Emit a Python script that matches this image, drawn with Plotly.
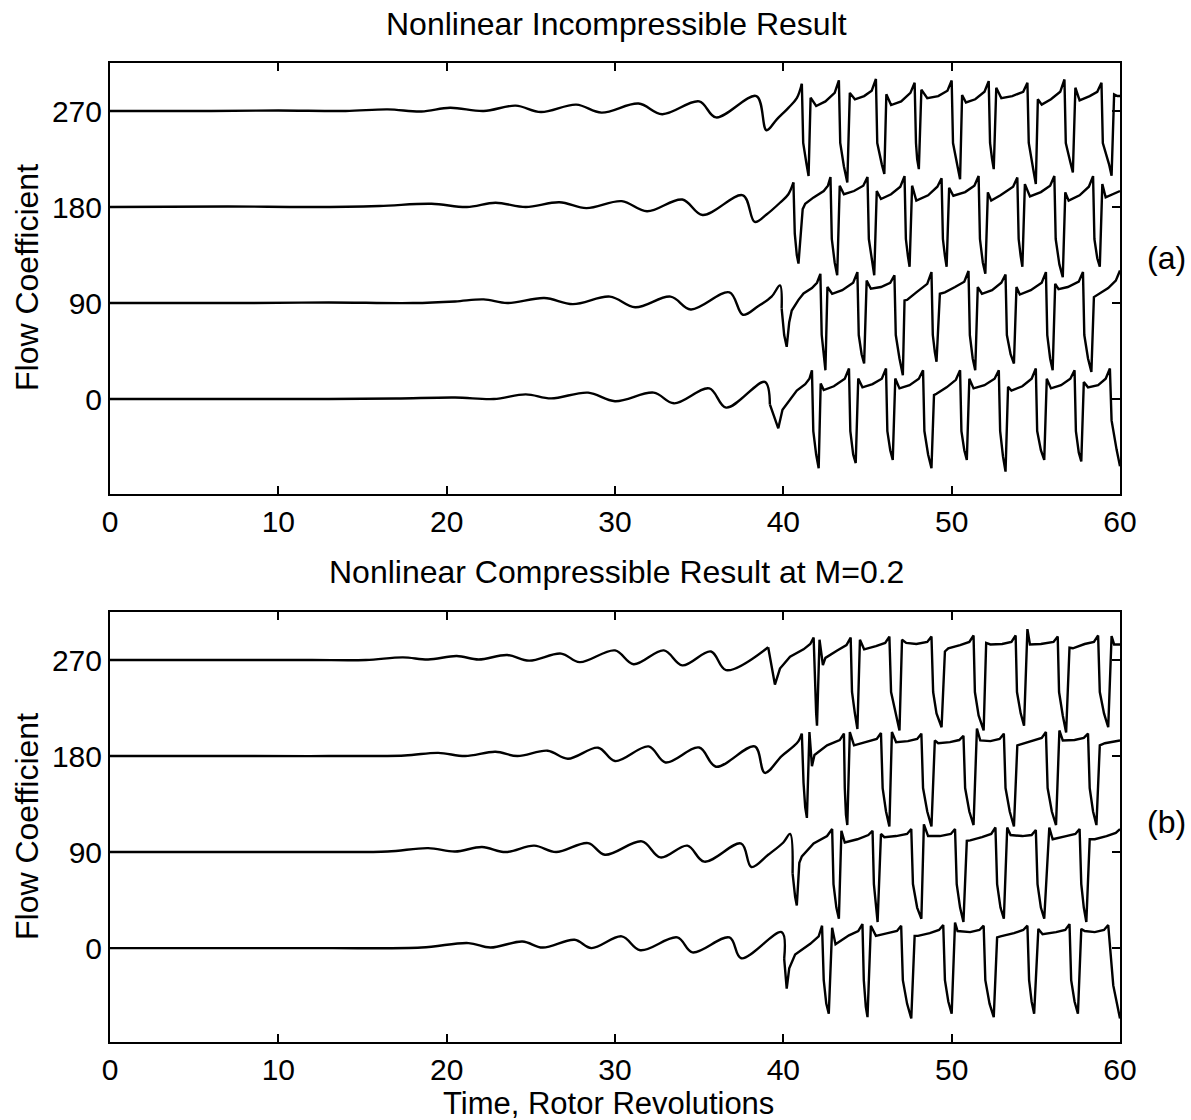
import plotly.graph_objects as go

# ---------------- data (time in rotor revolutions, deviation of flow coefficient) ----------------
offsets = [0, 90, 180, 270]
x_ticks = [0, 10, 20, 30, 40, 50, 60]
y_ticks = [0, 90, 180, 270]

# (a) Nonlinear incompressible result
inc_270 = [(0,0),(6,0),(10,0.5),(14,0),(16.5,1.5),(18.5,-0.5),(20.2,3),(22.2,0),(24.1,5),(25.6,-1),(27.7,6),(29.2,-1.5),
           (31.4,7),(32.8,-3),(35.0,9),(36.0,-6),(38.4,14),(39.0,-18),(39.6,-8),(40.3,3),(40.8,12),
           (41.1,25.5),(41.18,-30),(41.38,-50),(41.5,-61),(41.62,12.5),(41.95,4.7),(42.5,9),(43.05,17),(43.3,28.7),
           (43.38,-30),(43.6,-52),(43.8,-67),(43.95,17),(44.25,11),(44.8,14),(45.25,19),(45.5,30),
           (45.58,-30),(45.85,-50),(46.0,-59),(46.12,15.6),(46.4,5.6),(47.0,9),(47.55,17),(47.8,26.5),
           (47.88,-30),(47.95,-45),(48.05,-54.5),(48.2,20),(48.55,12),(49.2,14),(49.75,19),(50.0,28.6),
           (50.08,-30),(50.35,-52),(50.5,-64),(50.62,15),(50.85,8),(51.4,11),(51.95,18),(52.2,28),
           (52.28,-30),(52.4,-45),(52.5,-54.5),(52.65,21.8),(52.95,12),(53.6,14),(54.25,18),(54.5,26.5),
           (54.58,-30),(54.85,-55),(55.0,-68.5),(55.12,11),(55.35,6),(55.9,11),(56.45,18),(56.7,29.6),
           (56.78,-30),(57.05,-48),(57.2,-57.6),(57.35,21.8),(57.6,10),(58.2,14),(58.65,18),(58.9,26.5),
           (58.98,-30),(59.35,-50),(59.5,-60.7),(59.65,15.6),(59.85,14),(60.0,14)]

inc_180 = [(0,0),(7,0.5),(12,0),(16,1),(19.1,3),(21.2,0),(22.9,4),(24.7,0),(26.7,4.5),(28.3,-1),(30.4,5.5),(31.9,-4),
           (34.0,7),(35.2,-7.5),(37.6,11),(38.3,-14),(39.0,-7),(39.8,4),(40.3,12),(40.6,23),
           (40.68,-25),(40.8,-45),(40.9,-53),(41.15,-2),(41.3,3),(41.8,9),(42.4,15),(42.65,20),(42.8,28),
           (42.88,-30),(43.05,-52),(43.2,-64),(43.35,20),(43.6,12),(44.2,15),(44.75,20),(45.0,28),
           (45.08,-30),(45.25,-50),(45.4,-64),(45.55,15),(45.8,7.5),(46.4,12),(46.95,19),(47.2,29),
           (47.28,-30),(47.4,-46),(47.5,-56),(47.65,20),(47.9,6),(48.6,11),(49.15,19),(49.4,27),
           (49.48,-30),(49.6,-46),(49.7,-56),(49.85,18),(50.1,10.6),(50.8,14),(51.35,20),(51.6,29),
           (51.68,-30),(51.85,-52),(52.0,-62.6),(52.15,13.7),(52.35,6),(52.9,11),(53.65,19),(53.9,27.7),
           (53.98,-30),(54.1,-46),(54.2,-56),(54.35,21.5),(54.65,10),(55.3,14),(55.85,20),(56.1,29),
           (56.18,-30),(56.4,-54),(56.6,-65.7),(56.75,13.7),(56.95,6),(57.6,11),(58.15,19),(58.4,29),
           (58.48,-30),(58.65,-48),(58.8,-56),(58.95,21.5),(59.15,9),(60.0,15)]

inc_90 = [(0,0),(8,0),(13,0.5),(18,0),(20.5,1.5),(22.2,3.4),(23.6,0),(25.8,4.7),(27.5,-1),(29.7,6),(31.2,-4),
          (33.3,6),(34.5,-6),(36.8,10),(37.6,-11),(38.5,-3),(39.3,6),(39.8,16.5),
          (39.9,-5),(40.05,-30),(40.2,-41),(40.35,-18),(40.5,-7),(40.9,3),(41.2,9),(41.7,14),(42.0,19),(42.2,27.4),
          (42.28,-30),(42.4,-52),(42.5,-63),(42.62,15),(42.9,8.7),(43.5,12),(44.15,19),(44.4,29),
          (44.48,-30),(44.65,-48),(44.8,-56.7),(44.95,21),(45.2,13.4),(45.8,15),(46.35,19),(46.6,26),
          (46.68,-30),(46.9,-52),(47.1,-67.6),(47.2,2.5),(47.35,3),(47.9,10),(48.55,18),(48.8,29),
          (48.88,-30),(49.0,-46),(49.1,-55),(49.3,8.7),(49.6,10),(50.2,15),(50.75,20),(51.0,30),
          (51.08,-30),(51.25,-52),(51.4,-63),(51.55,15),(51.8,8.7),(52.4,12),(52.95,19),(53.2,26.8),
          (53.28,-30),(53.5,-48),(53.7,-56.7),(53.85,15),(54.05,8),(54.7,12),(55.35,19),(55.6,29),
          (55.68,-30),(55.85,-52),(56.0,-63),(56.15,18),(56.35,13),(56.9,15),(57.55,20),(57.8,29),
          (57.88,-30),(58.1,-52),(58.3,-64.5),(58.45,5.6),(58.7,8),(59.3,14),(59.75,21),(60.0,30.5)]

inc_0 = [(0,0),(8,0),(13,0),(17,0.5),(20.5,1.5),(22.8,0),(24.7,4.4),(26.2,0.6),(28.4,6),(30.0,-2),(32.3,6),(33.5,-4),
         (35.6,10),(36.6,-8),(38.9,16),(39.2,-5),(39.7,-27.4),(39.95,-10),(40.3,-3),(40.8,8),(41.3,14),(41.55,19),(41.7,27),
         (41.78,-30),(41.95,-52),(42.1,-64.8),(42.22,14.6),(42.4,8.4),(43.0,12),(43.65,19),(43.9,28.7),
         (43.98,-30),(44.15,-52),(44.3,-60),(44.45,19.3),(44.7,11),(45.3,14),(45.85,19),(46.1,28.7),
         (46.18,-30),(46.35,-48),(46.5,-57),(46.65,19.3),(46.9,10),(47.5,13),(48.05,19),(48.3,27),
         (48.38,-30),(48.6,-52),(48.8,-64.8),(48.95,3.7),(49.1,5),(49.7,11),(50.25,18),(50.5,27),
         (50.58,-30),(50.75,-48),(50.9,-57),(51.05,19),(51.3,10),(51.95,13),(52.55,19),(52.8,27),
         (52.88,-30),(53.05,-54),(53.2,-68),(53.35,11.5),(53.55,8),(54.2,12),(54.75,19),(55.0,28.7),
         (55.08,-30),(55.3,-48),(55.5,-57),(55.65,19),(55.9,10),(56.5,13),(57.05,19),(57.3,27),
         (57.38,-30),(57.55,-50),(57.7,-58.5),(57.85,16),(58.1,11),(58.7,13),(59.15,19),(59.4,28.7),
         (59.5,-20),(59.8,-47.6),(60.0,-63)]

# (b) Nonlinear compressible result at M=0.2
com_270 = [(0,0),(8,0),(12,0),(15.2,0),(17.4,2.5),(18.9,0.5),(20.6,3.7),(21.9,0.5),(23.6,4.7),(24.9,-0.6),(26.8,6),(27.9,-2),
           (30.0,9),(31.1,-4),(32.9,9),(34.0,-5),(35.7,8),(36.6,-9.5),(39.1,12),(39.5,-23),(39.8,-8),(40.4,3),(41.2,10),(41.6,15),(41.8,21),
           (41.88,-25),(41.95,-50),(42.0,-61.5),(42.15,19),(42.35,-4.7),(42.5,2),(43.2,9),(43.75,14),(44.0,21),
           (44.08,-30),(44.25,-50),(44.4,-64.7),(44.55,19),(44.8,10),(45.5,13),(46.05,16),(46.3,22),
           (46.4,-30),(46.65,-48),(46.9,-66),(47.05,19),(47.3,16),(47.9,15),(48.55,17),(48.8,22),
           (48.9,-30),(49.1,-50),(49.4,-63),(49.6,8),(49.8,11),(50.5,14),(51.05,17),(51.3,23),
           (51.38,-30),(51.6,-52),(51.9,-66),(52.05,16),(52.3,14.6),(53.0,15),(53.55,17),(53.8,23),
           (53.88,-30),(54.1,-50),(54.3,-61.5),(54.5,29),(54.65,14.6),(55.3,15),(56.05,17),(56.3,22),
           (56.38,-30),(56.6,-52),(56.8,-68),(57.0,11.5),(57.2,11),(57.9,15),(58.45,17),(58.7,23),
           (58.8,-30),(59.05,-50),(59.3,-63),(59.5,22.5),(59.65,14.6),(60.0,14.6)]

com_180 = [(0,0),(8,0),(13,0),(17.5,0.5),(19.5,3),(21.1,0),(22.9,4),(24.2,0),(26.0,5),(27.2,-2.5),(29.0,7.8),(30.0,-4.7),
           (32.0,9),(33.0,-6),(35.0,8),(36.0,-10),(38.3,9),(38.9,-15.8),(39.9,0),(40.6,9),(40.9,14),(41.1,21),
           (41.2,-25),(41.3,-48),(41.4,-58),(41.55,22.5),(41.7,-9.5),(41.85,1),(42.6,10),(43.35,15),(43.6,21),
           (43.65,-30),(43.72,-55),(43.8,-64.7),(43.95,22.5),(44.2,10),(44.9,13),(45.55,16),(45.8,21.6),
           (45.9,-30),(46.1,-52),(46.3,-66),(46.45,22.5),(46.7,13),(47.4,14),(47.95,16),(48.2,21),
           (48.3,-30),(48.55,-52),(48.8,-66),(49.0,14.6),(49.2,12),(49.9,13),(50.45,15),(50.7,19),
           (50.8,-30),(51.05,-52),(51.3,-64.7),(51.5,25.7),(51.7,14.6),(52.3,14),(52.85,16),(53.1,21),
           (53.2,-30),(53.45,-52),(53.7,-66),(53.9,10),(54.1,11),(54.8,14),(55.35,17),(55.6,22.5),
           (55.7,-30),(55.95,-52),(56.2,-64.7),(56.4,24),(56.6,14.6),(57.3,15),(57.85,17),(58.1,21),
           (58.2,-30),(58.4,-52),(58.6,-64.7),(58.8,10),(59.1,12),(60.0,14.6)]

com_90 = [(0,0),(8,0),(13,0),(16.5,0.5),(18.9,3.7),(20.5,0.5),(22.1,4.7),(23.5,0),(25.2,6),(26.5,0),(28.4,8.4),(29.4,-2.5),
          (31.6,10),(32.7,-5),(34.3,6),(35.3,-9),(37.5,8),(38.1,-14),(39.1,-2.5),(40.0,9),(40.4,17),
          (40.55,-20),(40.7,-42),(40.8,-50),(40.95,-10),(41.1,-4),(41.8,8),(42.6,15),(42.9,21.6),
          (42.98,-30),(43.15,-52),(43.3,-62.5),(43.45,20),(43.65,9),(44.4,12),(45.05,16),(45.3,20),
          (45.38,-30),(45.5,-52),(45.6,-65.6),(45.8,17),(46.0,14),(46.7,15),(47.35,17),(47.6,21.6),
          (47.7,-30),(47.95,-52),(48.2,-62.5),(48.35,26),(48.6,15),(49.3,15),(49.95,17),(50.2,21.6),
          (50.3,-30),(50.5,-52),(50.7,-65.6),(50.9,10.5),(51.1,11),(51.8,14),(52.35,17),(52.6,23),
          (52.7,-30),(52.9,-52),(53.1,-62.5),(53.3,23),(53.5,16),(54.2,15),(54.75,16),(55.0,20.6),
          (55.1,-30),(55.3,-52),(55.5,-62.5),(55.8,23),(56.0,12),(56.8,15),(57.35,17),(57.6,21.6),
          (57.7,-30),(57.85,-52),(58.0,-65.6),(58.2,12),(58.5,12),(59.2,15),(59.75,18),(60.0,21.6)]

com_0 = [(0,0),(8,0),(13,0),(18.5,0.5),(21.3,4.7),(22.6,0.5),(24.5,6.2),(25.7,0.5),(27.6,7.8),(28.6,0),(30.4,11),
         (31.5,-2),(33.7,10),(34.6,-4),(36.8,10),(37.5,-9.5),(39.9,15),(40.05,-10),(40.2,-38),(40.35,-19),(40.7,-6),(41.6,4),(42.1,11),(42.3,21),
         (42.4,-30),(42.55,-52),(42.7,-61.5),(42.9,19),(43.1,3.5),(43.9,12),(44.45,16),(44.7,22.5),
         (44.78,-30),(44.9,-55),(45.0,-64.7),(45.2,21),(45.5,11.5),(46.2,14),(46.75,16),(47.0,21),
         (47.1,-30),(47.35,-52),(47.6,-66),(47.8,11.5),(48.0,11.5),(48.7,14),(49.25,17),(49.5,21.6),
         (49.6,-30),(49.8,-50),(50.0,-61.5),(50.2,24),(50.35,16),(51.1,15),(51.65,17),(51.9,21),
         (52.0,-30),(52.25,-52),(52.5,-64.7),(52.7,10),(52.9,11),(53.7,14),(54.25,17),(54.5,21),
         (54.6,-30),(54.75,-50),(54.9,-61.5),(55.15,18),(55.4,13),(56.2,15),(56.75,17),(57.0,22.5),
         (57.1,-30),(57.3,-50),(57.5,-61.5),(57.7,18),(57.9,16),(58.5,15),(59.05,17),(59.3,21.6),
         (59.6,-35),(60.0,-66)]

panel_a = [inc_0, inc_90, inc_180, inc_270]
panel_b = [com_0, com_90, com_180, com_270]

# ---------------- figure ----------------
FONT = "Liberation Sans, Arial, Helvetica, sans-serif"
fig = go.Figure()

def split_index(pts):
    # last point before the first deep surge dip: smooth (spline) part ends there
    for i, p in enumerate(pts):
        if p[1] < -20:
            return i - 1
    return len(pts) - 1

for series_list, xa, ya in [(panel_a, "x", "y"), (panel_b, "x2", "y2")]:
    for off, pts in zip(offsets, series_list):
        k = split_index(pts)
        smooth, sharp = pts[:k + 1], pts[k:]
        fig.add_trace(go.Scatter(
            x=[p[0] for p in smooth], y=[off + p[1] for p in smooth],
            mode="lines", line=dict(color="black", width=2.4, shape="spline", smoothing=1.0),
            xaxis=xa, yaxis=ya, showlegend=False, hoverinfo="skip"))
        fig.add_trace(go.Scatter(
            x=[p[0] for p in sharp], y=[off + p[1] for p in sharp],
            mode="lines", line=dict(color="black", width=2.4),
            xaxis=xa, yaxis=ya, showlegend=False, hoverinfo="skip"))

axis_common = dict(showline=True, linecolor="black", linewidth=2, mirror="ticks",
                   ticks="inside", ticklen=8, tickwidth=2, tickcolor="black",
                   showgrid=False, zeroline=False,
                   tickfont=dict(family=FONT, size=30, color="black"))

# pixel geometry: plot area x 110..1120; panel a y 63..494, panel b y 612..1042
H_PLOT = 1120 - 63 - 78
dom_a = [(1042 - 494) / H_PLOT, 1.0]
dom_b = [0.0, (1042 - 612) / H_PLOT]

fig.update_layout(
    width=1191, height=1120,
    margin=dict(l=110, r=71, t=63, b=78),
    paper_bgcolor="white", plot_bgcolor="white",
    font=dict(family=FONT, color="black"),
    xaxis=dict(range=[0, 60], tickvals=x_ticks, domain=[0, 1], anchor="y", **axis_common),
    yaxis=dict(range=[-89, 315], tickvals=y_ticks, domain=dom_a, anchor="x", **axis_common),
    xaxis2=dict(range=[0, 60], tickvals=x_ticks, domain=[0, 1], anchor="y2", **axis_common),
    yaxis2=dict(range=[-88, 315], tickvals=y_ticks, domain=dom_b, anchor="x2", **axis_common),
)

def px_x(px):
    return (px - 110) / 1010.0

def px_y(py):
    return (1042 - py) / H_PLOT

ann = [
    dict(text="Nonlinear Incompressible Result", x=px_x(616), y=px_y(24), size=32, angle=0),
    dict(text="Nonlinear Compressible Result at M=0.2", x=px_x(616), y=px_y(572), size=32, angle=0),
    dict(text="(a)", x=px_x(1166), y=px_y(258), size=32, angle=0),
    dict(text="(b)", x=px_x(1166), y=px_y(822), size=32, angle=0),
    dict(text="Time, Rotor Revolutions", x=px_x(608), y=px_y(1103), size=31, angle=0),
    dict(text="Flow Coefficient", x=px_x(27), y=px_y(278), size=32, angle=-90),
    dict(text="Flow Coefficient", x=px_x(27), y=px_y(827), size=32, angle=-90),
]
for a in ann:
    fig.add_annotation(text=a["text"], x=a["x"], y=a["y"], xref="paper", yref="paper",
                       showarrow=False, xanchor="center", yanchor="middle", textangle=a["angle"],
                       font=dict(family=FONT, size=a["size"], color="black"))

fig.write_html("out.html",
               config={"displayModeBar": False, "staticPlot": True},
               post_script="document.body.style.margin='0px';document.body.style.overflow='hidden';")
